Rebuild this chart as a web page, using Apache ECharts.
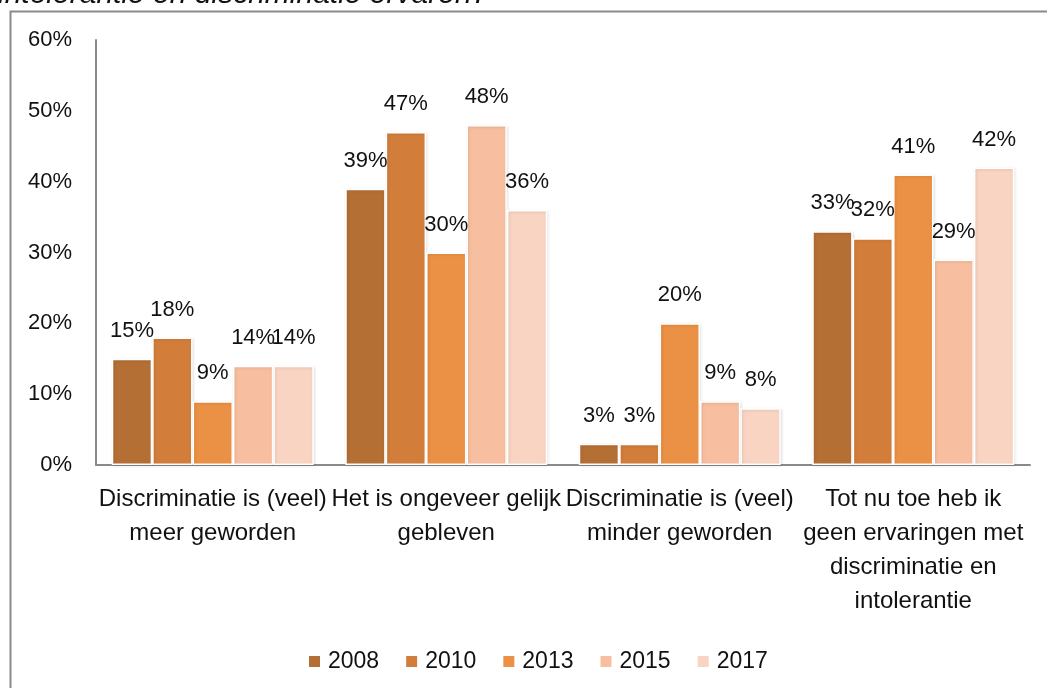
<!DOCTYPE html>
<html>
<head>
<meta charset="utf-8">
<script src="https://cdn.jsdelivr.net/npm/echarts@6/dist/echarts.min.js"></script>
<style>
html,body{margin:0;padding:0;background:#fff;}
#chart{width:1047px;height:688px;}
</style>
</head>
<body>
<div id="chart"></div>
<script>
const titleText = 'intolerantie en discriminatie ervaren?';
const categories = [
  'Discriminatie is (veel)\nmeer geworden',
  'Het is ongeveer gelijk\ngebleven',
  'Discriminatie is (veel)\nminder geworden',
  'Tot nu toe heb ik\ngeen ervaringen met\ndiscriminatie en\nintolerantie'
];
const years = ['2008', '2010', '2013', '2015', '2017'];
const v2008 = [15, 39, 3, 33];
const v2010 = [18, 47, 3, 32];
const v2013 = [9, 30, 20, 41];
const v2015 = [14, 48, 9, 29];
const v2017 = [14, 36, 8, 42];
const yTicks = [0, 10, 20, 30, 40, 50, 60];

const seriesValues = [v2008, v2010, v2013, v2015, v2017];
const colors = ['#b46f35', '#d27e3a', '#eb9145', '#f7bf9f', '#f9d4c2'];
const FONT = '"Liberation Sans", Arial, sans-serif';

const chart = echarts.init(document.getElementById('chart'), null, {renderer: 'canvas'});
const option = {
  animation: false,
  backgroundColor: '#ffffff',
  textStyle: {fontFamily: FONT},
  graphic: [
    {
      type: 'rect', left: 8, top: 9, z: 1,
      shape: {width: 1100, height: 760},
      style: {fill: 'none', stroke: '#8a8a8a', lineWidth: 2}
    },
    {
      type: 'text', left: -2, top: -20, z: 0,
      style: {text: titleText, font: 'italic 30px ' + FONT, fill: '#111'}
    }
  ],
  grid: {left: 96, right: 17, top: 40, bottom: 223, containLabel: false},
  legend: {
    data: years,
    left: 302, top: 645,
    itemWidth: 13, itemHeight: 13, itemGap: 25,
    icon: 'rect',
    textStyle: {fontSize: 23, color: '#111', fontFamily: FONT, padding: [0, 0, 0, 2]}
  },
  xAxis: {
    type: 'category',
    data: categories,
    axisLine: {lineStyle: {color: '#8a8a8a', width: 2}},
    axisTick: {show: false},
    axisLabel: {fontSize: 24, color: '#111', lineHeight: 34, margin: 17, interval: 0, fontFamily: FONT}
  },
  yAxis: {
    type: 'value',
    min: yTicks[0], max: yTicks[yTicks.length - 1], interval: 10,
    axisLine: {show: true, lineStyle: {color: '#8a8a8a', width: 2}},
    axisTick: {show: false},
    splitLine: {show: false},
    axisLabel: {fontSize: 22, color: '#111', margin: 24, formatter: '{value}%', fontFamily: FONT}
  },
  series: years.map((y, i) => ({
    name: y,
    type: 'bar',
    data: seriesValues[i],
    barGap: '0%',
    barCategoryGap: '13.5%',
    itemStyle: {color: colors[i], borderColor: '#ffffff', borderWidth: 1.5,
      shadowColor: 'rgba(0,0,0,0.12)', shadowBlur: 3, shadowOffsetX: 1, shadowOffsetY: 1},
    label: {show: true, position: 'top', distance: 17, formatter: '{c}%', fontSize: 22, color: '#111', fontFamily: FONT}
  }))
};
chart.setOption(option);
</script>
</body>
</html>
